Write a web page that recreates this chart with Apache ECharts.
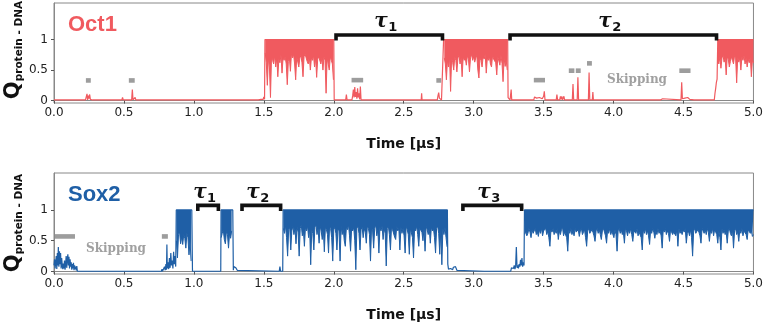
<!DOCTYPE html>
<html><head><meta charset="utf-8">
<script src="https://cdn.jsdelivr.net/npm/echarts@6/dist/echarts.min.js"></script>
<style>html,body{margin:0;padding:0;background:#fff}#c{width:766px;height:325px}</style>
</head><body><div id="c"></div>
<script>
// ---------------- DATA ----------------
const STEP = 0.0075; // sampling interval (µs) of the dense bound stretches

const xTicks = [0, 0.5, 1, 1.5, 2, 2.5, 3, 3.5, 4, 4.5, 5];
const yTicks = [0, 0.5, 1];

// Oct1: sparse trace (unbound stretches, spikes, edges) [time µs, Q]
const oct1Trace = [[0,0.01],[0.225,0.01],[0.23,0.04],[0.236,0.11],[0.24,0.01],[0.245,0.08],[0.25,0.03],[0.255,0.1],[0.26,0.02],[0.27,0.05],[0.275,0.01],[0.28,0.04],[0.285,0.01],
[0.485,0.01],[0.49,0.05],[0.495,0.01],[0.555,0.01],[0.56,0.18],[0.565,0.01],[0.575,0.01],[0.58,0.05],[0.585,0.01],
[1.46,0.01],[1.465,0.04],[1.47,0.01],[1.48,0.02],[1.49,0.05],[1.495,0.02],[1.5,0.06],[1.505,0.02],[1.508,1],[2.0,1],[2.003,0.01],
[2.085,0.01],[2.09,0.1],[2.095,0.01],[2.13,0.01],[2.135,0.08],[2.14,0.18],[2.145,0.05],[2.15,0.22],[2.155,0.06],[2.16,0.14],[2.165,0.03],[2.17,0.2],[2.175,0.05],[2.18,0.12],[2.185,0.02],[2.19,0.23],[2.195,0.01],
[2.5,0.01],[2.503,0.03],[2.506,0.01],[2.625,0.01],[2.628,0.12],[2.631,0.01],[2.74,0.01],[2.745,0.08],[2.75,0.13],[2.755,0.04],[2.765,0.06],[2.77,0.01],[2.785,1],[3.243,1],[3.246,0.05],[3.255,0.04],[3.26,0.01],[3.268,0.18],[3.272,0.01],
[3.43,0.01],[3.435,0.06],[3.44,0.07],[3.45,0.04],[3.46,0.07],[3.47,0.05],[3.48,0.08],[3.49,0.03],[3.5,0.07],[3.505,0.15],[3.51,0.01],
[3.59,0.01],[3.595,0.1],[3.6,0.01],[3.615,0.01],[3.62,0.07],[3.625,0.02],[3.63,0.07],[3.635,0.01],[3.645,0.07],[3.65,0.01],
[3.705,0.01],[3.71,0.27],[3.715,0.01],[3.74,0.01],[3.745,0.38],[3.75,0.01],[3.82,0.01],[3.825,0.46],[3.83,0.01],[3.848,0.01],[3.852,0.14],[3.856,0.01],
[4.335,0.01],[4.34,0.04],[4.35,0.03],[4.355,0.01],
[4.482,0.01],[4.487,0.3],[4.492,0.03],[4.5,0.06],[4.51,0.04],[4.52,0.07],[4.53,0.05],[4.54,0.08],[4.545,0.02],[4.55,0.01],[4.575,0.01],[4.58,0.03],[4.585,0.01],
[4.72,0.01],[4.725,0.12],[4.73,0.2],[4.735,0.3],[4.74,0.35],[4.745,1],[5.0,1]];

// Oct1: bound stretches (start time, lower values of the fluctuating signal)
const oct1BoundStarts = [1.51, 2.79, 4.745];
const oct1BoundA = [0.78,0.62,0.25,0.7,0.55,0.05,0.72,0.66,0.6,0.74,0.55,0.7,0.39,0.68,0.62,0.75,0.45,0.7,0.66,0.72,0.6,0.26,0.64,0.7,0.48,0.77,0.7,0.76,0.6,0.34,0.72,0.7,0.55,0.7,0.74,0.62,0.39,0.72,0.76,0.7,0.64,0.6,0.72,0.5,0.7,0.66,0.74,0.55,0.7,0.38,0.68,0.72,0.75,0.6,0.7,0.5,0.72,0.66,0.12,0.7,0.6,0.5,0.72,0.66,0.6,0.34];
const oct1BoundB = [0.7,0.6,0.34,0.66,0.55,0.72,0.15,0.7,0.62,0.5,0.72,0.66,0.47,0.7,0.74,0.6,0.7,0.39,0.72,0.66,0.7,0.58,0.74,0.68,0.47,0.7,0.76,0.66,0.72,0.63,0.7,0.74,0.5,0.37,0.7,0.66,0.55,0.72,0.68,0.76,0.45,0.7,0.66,0.72,0.6,0.55,0.74,0.68,0.7,0.62,0.42,0.72,0.7,0.58,0.74,0.61,0.31,0.7,0.56,0.66,0.5];
const oct1BoundC = [0.66,0.6,0.72,0.53,0.7,0.74,0.63,0.7,0.42,0.72,0.68,0.55,0.64,0.72,0.66,0.6,0.74,0.7,0.29,0.72,0.63,0.7,0.5,0.72,0.66,0.74,0.6,0.7,0.55,0.68,0.62,0.72,0.39,0.66,0.62];

// Sox2: sparse trace
const sox2Trace = [[0,0.1],[0.004,0.2],[0.008,0.05],[0.012,0.15],[0.016,0.25],[0.02,0.04],[0.024,0.3],[0.028,0.1],[0.031,0.4],[0.035,0.08],[0.039,0.33],[0.043,0.12],[0.047,0.3],[0.051,0.05],[0.055,0.22],[0.059,0.1],[0.063,0.04],[0.067,0.13],[0.071,0.05],[0.075,0.18],[0.079,0.03],[0.083,0.12],[0.087,0.25],[0.091,0.06],[0.095,0.2],[0.099,0.28],[0.103,0.1],[0.107,0.24],[0.111,0.05],[0.115,0.2],[0.119,0.08],[0.123,0.15],[0.127,0.03],[0.131,0.12],[0.135,0.05],[0.139,0.14],[0.143,0.02],[0.147,0.1],[0.151,0.04],[0.155,0.08],[0.159,0.02],[0.163,0.09],[0.167,0.005],
[0.768,0.005],[0.772,0.04],[0.776,0.005],[0.785,0.005],[0.79,0.08],[0.795,0.02],[0.8,0.12],[0.804,0.03],[0.807,0.44],[0.81,0.05],[0.815,0.15],[0.82,0.04],[0.825,0.22],[0.83,0.06],[0.835,0.3],[0.84,0.1],[0.845,0.18],[0.85,0.05],[0.855,0.32],[0.86,0.12],[0.865,0.25],[0.87,0.08],[0.874,1],[0.985,1],[0.99,0.005],
[1.192,0.005],[1.194,1],[1.278,1],[1.282,0.02],[1.285,0.08],[1.29,0.05],[1.295,0.09],[1.3,0.06],[1.305,0.08],[1.31,0.02],[1.315,0.005],
[1.61,0.005],[1.615,0.08],[1.62,0.005],[1.635,0.005],[1.638,1],[2.812,1],[2.815,0.12],[2.82,0.04],[2.825,0.07],[2.835,0.05],[2.84,0.08],[2.85,0.03],[2.855,0.07],[2.865,0.05],[2.87,0.08],[2.88,0.02],[2.885,0.005],
[3.075,0.005],[3.08,0.03],[3.085,0.005],
[3.265,0.005],[3.27,0.06],[3.275,0.03],[3.28,0.08],[3.285,0.05],[3.29,0.1],[3.295,0.04],[3.3,0.09],[3.305,0.4],[3.31,0.06],[3.315,0.1],[3.32,0.05],[3.325,0.12],[3.33,0.08],[3.335,0.19],[3.34,0.1],[3.345,0.22],[3.35,0.08],[3.355,0.15],[3.36,0.1],[3.363,1],[5.0,1]];

const sox2BoundStarts = [0.875, 1.195, 1.64, 3.365];
const sox2Bound1 = [0.5,0.22,0.6,0.65,0.45,0.56,0.44,0.6,0.54,0.38,0.62,0.55,0.27,0.5,0.17];
const sox2Bound2 = [0.55,0.62,0.68,0.52,0.45,0.65,0.6,0.38,0.62,0.54,0.66];
const sox2Bound3 = [0.7,0.62,0.75,0.55,0.25,0.68,0.72,0.35,0.66,0.74,
0.6,0.7,0.45,0.72,0.64,0.25,0.7,0.76,0.58,0.68,
0.41,0.72,0.66,0.74,0.55,0.7,0.11,0.68,0.62,0.35,
0.72,0.76,0.6,0.7,0.46,0.74,0.66,0.52,0.7,0.32,
0.72,0.68,0.6,0.3,0.74,0.7,0.55,0.17,0.68,0.72,
0.62,0.35,0.7,0.66,0.17,0.74,0.6,0.7,0.5,0.41,
0.72,0.68,0.76,0.58,0.33,0.7,0.66,0.72,0.5,0.03,
0.7,0.74,0.62,0.35,0.68,0.72,0.55,0.7,0.64,0.46,
0.74,0.7,0.6,0.17,0.72,0.66,0.38,0.7,0.76,0.58,
0.68,0.3,0.72,0.66,0.74,0.52,0.7,0.62,0.09,0.7,
0.74,0.6,0.35,0.72,0.68,0.7,0.56,0.52,0.74,0.66,
0.7,0.35,0.72,0.62,0.7,0.58,0.3,0.74,0.68,0.6,
0.28,0.7,0.72,0.55,0.22,0.7,0.66,0.74,0.6,0.41,
0.7,0.72,0.64,0.5,0.7,0.33,0.74,0.68,0.6,0.7,
0.46,0.72,0.66,0.7,0.55,0.3,0.7,0.74,0.62,0.28,
0.68,0.11,0.7,0.6,0.72,0.55,0.4];
const sox2Bound4 = [0.6,0.66,0.58,0.62,0.7,0.64,0.55,0.68,0.62,0.66,
0.7,0.6,0.64,0.57,0.68,0.62,0.7,0.58,0.66,0.63,
0.7,0.6,0.66,0.55,0.41,0.68,0.64,0.7,0.6,0.66,
0.62,0.7,0.52,0.66,0.6,0.68,0.72,0.58,0.64,0.66,
0.55,0.33,0.68,0.62,0.7,0.6,0.66,0.58,0.7,0.64,
0.62,0.68,0.57,0.66,0.7,0.6,0.64,0.68,0.55,0.41,
0.66,0.7,0.62,0.6,0.68,0.64,0.58,0.49,0.66,0.7,
0.62,0.68,0.6,0.52,0.66,0.7,0.64,0.58,0.46,0.68,
0.62,0.7,0.6,0.66,0.64,0.55,0.68,0.6,0.33,0.66,
0.7,0.62,0.68,0.6,0.64,0.46,0.7,0.66,0.58,0.68,
0.62,0.7,0.6,0.49,0.66,0.68,0.62,0.7,0.58,0.64,
0.66,0.55,0.35,0.68,0.62,0.7,0.6,0.66,0.58,0.44,
0.68,0.62,0.7,0.64,0.54,0.66,0.6,0.7,0.62,0.66,
0.58,0.38,0.68,0.64,0.7,0.6,0.66,0.62,0.49,0.68,
0.7,0.6,0.64,0.66,0.58,0.68,0.41,0.7,0.62,0.66,
0.6,0.68,0.64,0.7,0.46,0.62,0.66,0.58,0.68,0.55,
0.25,0.66,0.7,0.62,0.6,0.68,0.64,0.58,0.46,0.7,
0.66,0.62,0.68,0.6,0.7,0.64,0.49,0.66,0.62,0.7,
0.58,0.68,0.64,0.6,0.46,0.66,0.55,0.35,0.7,0.62,
0.68,0.6,0.64,0.46,0.66,0.7,0.62,0.58,0.68,0.38,
0.66,0.7,0.6,0.64,0.49,0.68,0.62,0.7,0.58,0.66,
0.64,0.6,0.52,0.68,0.7,0.62,0.66,0.57,0.6];

// gray markers: [start µs, end µs, Q]
const oct1Markers = [[0.228,0.263,0.33],[0.535,0.577,0.33],[2.127,2.21,0.335],[2.733,2.768,0.33],[3.43,3.51,0.335],[3.68,3.72,0.49],[3.73,3.765,0.49],[3.81,3.845,0.61],[4.47,4.55,0.49]];
const sox2Markers = [[0.007,0.15,0.57],[0.771,0.814,0.57]];

// dwell brackets: [start µs, end µs] and their labels
const oct1Brackets = [[2.016,2.777],[3.26,4.736]];
const oct1TauIdx = ['1','2'];
const sox2Brackets = [[1.028,1.175],[1.344,1.62],[2.923,3.343]];
const sox2TauIdx = ['1','2','3'];

// ---------------- CHART ----------------
const RED = '#f05a5f', BLUE = '#1f5fa6';
const chart = echarts.init(document.getElementById('c'), null, {renderer:'canvas'});

function boundSeries(start, vals, idx, color) {
  return {type:'line', xAxisIndex:idx, yAxisIndex:idx, showSymbol:false, silent:true, z:2,
    data: vals.map((v,i)=>[start + i*STEP, v]),
    lineStyle:{color:color, width:1}, areaStyle:{color:color, opacity:1, origin:1}};
}
function traceSeries(data, idx, color) {
  return {type:'line', xAxisIndex:idx, yAxisIndex:idx, showSymbol:false, silent:true, z:3,
    data:data, lineStyle:{color:color, width:1.2}};
}
function markerSeries(data, idx) {
  return {type:'custom', xAxisIndex:idx, yAxisIndex:idx, silent:true, z:4, data:data,
    renderItem:(p, api)=>{
      const a = api.coord([api.value(0), api.value(2)]);
      const b = api.coord([api.value(1), api.value(2)]);
      return {type:'rect', shape:{x:a[0], y:a[1]-2.3, width:b[0]-a[0], height:4.6}, style:{fill:'#9d9d9d'}};
    }};
}
function bracketSeries(data, labels, idx) {
  return {type:'custom', xAxisIndex:idx, yAxisIndex:idx, silent:true, z:5, data:data,
    renderItem:(p, api)=>{
      const a = api.coord([api.value(0), 1.075]);
      const b = api.coord([api.value(1), 1.075]);
      const leg = api.coord([api.value(0), 0.985])[1];
      const cx = (a[0]+b[0])/2;
      return {type:'group', children:[
        {type:'polyline', shape:{points:[[a[0],leg],[a[0],a[1]],[b[0],b[1]],[b[0],leg]]},
          style:{stroke:'#111', lineWidth:3.6, fill:null, lineJoin:'miter'}},
        {type:'text', x:cx-1.5, y:a[1]-13, style:{text:'τ', align:'right', verticalAlign:'middle',
          fontSize:20, fontWeight:'bold', fontStyle:'italic', fontFamily:'DejaVu Serif', fill:'#111'}},
        {type:'text', x:cx-1, y:a[1]-7, style:{text:labels[p.dataIndex], align:'left', verticalAlign:'middle',
          fontSize:13, fontWeight:'bold', fontFamily:'DejaVu Sans', fill:'#111'}}
      ]};
    }};
}

function xAxis(idx) {
  return {type:'value', gridIndex:idx, min:0, max:5, interval:0.5,
    axisLine:{show:true, lineStyle:{color:'#888'}},
    axisTick:{show:true, length:3, lineStyle:{color:'#555'}, customValues:xTicks},
    axisLabel:{customValues:xTicks, formatter:v=>v.toFixed(1), fontSize:12, color:'#222', fontFamily:'DejaVu Sans', margin:4},
    splitLine:{show:false},
    name:'Time [µs]', nameLocation:'middle', nameGap:34,
    nameTextStyle:{fontSize:14, fontWeight:'bold', fontFamily:'DejaVu Sans', color:'#111', verticalAlign:'top'}};
}
function yAxis(idx) {
  return {type:'value', gridIndex:idx, min:-0.04, max:1.6,
    axisLine:{show:true, lineStyle:{color:'#888'}},
    axisTick:{show:true, length:3, lineStyle:{color:'#555'}, customValues:yTicks},
    axisLabel:{customValues:yTicks, formatter:v=>String(v), fontSize:12, color:'#222', fontFamily:'DejaVu Sans', margin:6},
    splitLine:{show:false}};
}

const yLabelRich = {
  q:{fontSize:21, fontWeight:'bold', fontFamily:'DejaVu Sans', fill:'#111'},
  s:{fontSize:10.5, fontWeight:'bold', fontFamily:'DejaVu Sans', fill:'#111', verticalAlign:'bottom'}
};

const option = {
  animation:false,
  backgroundColor:'#fff',
  grid:[
    {left:54, right:10, top:3, height:100, show:true, borderColor:'#888', borderWidth:1},
    {left:54, right:10, top:173, height:101, show:true, borderColor:'#888', borderWidth:1}
  ],
  xAxis:[xAxis(0), xAxis(1)],
  yAxis:[yAxis(0), yAxis(1)],
  graphic:[
    {type:'text', x:14, y:50, rotation:Math.PI/2, style:{text:'{q|Q}{s|protein - DNA}', rich:yLabelRich, align:'center', verticalAlign:'middle'}},
    {type:'text', x:14, y:223, rotation:Math.PI/2, style:{text:'{q|Q}{s|protein - DNA}', rich:yLabelRich, align:'center', verticalAlign:'middle'}},
    {type:'text', x:68, y:25, style:{text:'Oct1', fontSize:22, fontWeight:'bold', fontFamily:'Liberation Sans', fill:RED, verticalAlign:'middle'}},
    {type:'text', x:68, y:195, style:{text:'Sox2', fontSize:22, fontWeight:'bold', fontFamily:'Liberation Sans', fill:BLUE, verticalAlign:'middle'}},
    {type:'text', x:607, y:80, style:{text:'Skipping', fontSize:12, fontWeight:'bold', fontFamily:'DejaVu Serif', fill:'#a0a0a0', verticalAlign:'middle'}},
    {type:'text', x:86, y:249, style:{text:'Skipping', fontSize:12, fontWeight:'bold', fontFamily:'DejaVu Serif', fill:'#a0a0a0', verticalAlign:'middle'}}
  ],
  series:[
    traceSeries(oct1Trace, 0, RED),
    boundSeries(oct1BoundStarts[0], oct1BoundA, 0, RED),
    boundSeries(oct1BoundStarts[1], oct1BoundB, 0, RED),
    boundSeries(oct1BoundStarts[2], oct1BoundC, 0, RED),
    markerSeries(oct1Markers, 0),
    bracketSeries(oct1Brackets, oct1TauIdx, 0),
    traceSeries(sox2Trace, 1, BLUE),
    boundSeries(sox2BoundStarts[0], sox2Bound1, 1, BLUE),
    boundSeries(sox2BoundStarts[1], sox2Bound2, 1, BLUE),
    boundSeries(sox2BoundStarts[2], sox2Bound3, 1, BLUE),
    boundSeries(sox2BoundStarts[3], sox2Bound4, 1, BLUE),
    markerSeries(sox2Markers, 1),
    bracketSeries(sox2Brackets, sox2TauIdx, 1)
  ]
};
chart.setOption(option);
</script></body></html>
